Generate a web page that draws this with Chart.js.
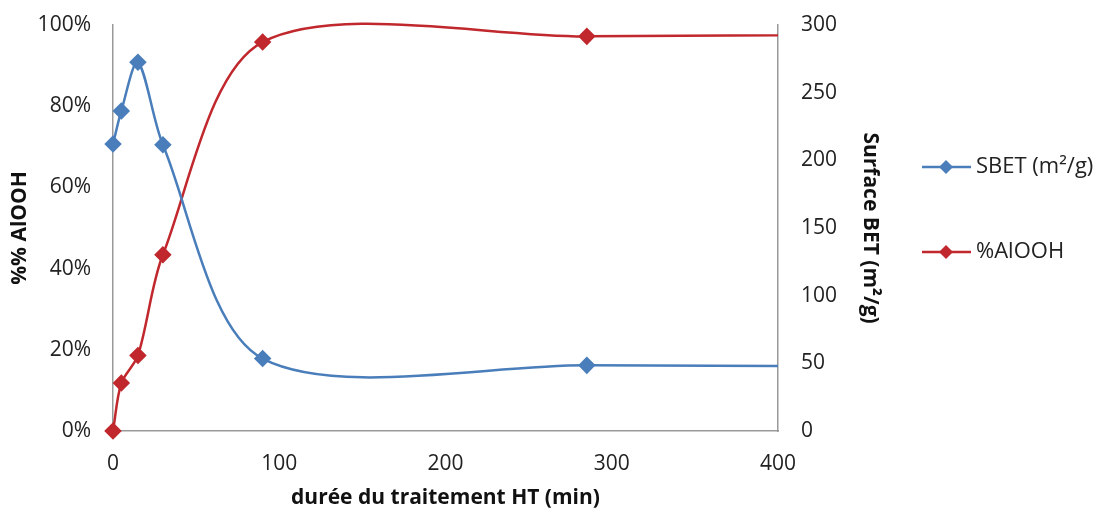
<!DOCTYPE html>
<html><head><meta charset="utf-8">
<script src="https://cdn.jsdelivr.net/npm/chart.js@4.4.0/dist/chart.umd.min.js"></script>
<style>html,body{margin:0;padding:0;background:#fff}#wrap{width:1100px;height:511px}</style>
</head><body><div id="wrap"><canvas id="c" width="1100" height="511"></canvas></div>
<script>
const durations = [0, 5, 15, 30, 90, 285, 1440];
const sbet = [212, 236.5, 272.5, 211.5, 53.5, 48.5, 44];
const alooh = [0, 11.8, 18.6, 43.4, 95.8, 97.2, 99.8];
const xTicks = [0, 100, 200, 300, 400];
const seriesNames = ['SBET (m²/g)', '%AlOOH'];
const BLUE = '#4A7EBB', RED = '#C0282D';
const FONT = "'Open Sans', 'Liberation Sans', sans-serif";

const legendPlugin = {
  id: 'sideLegend',
  afterDraw(chart) {
    const ctx = chart.ctx;
    const items = [{t: seriesNames[0], c: BLUE, y: 167}, {t: seriesNames[1], c: RED, y: 252}];
    ctx.save();
    items.forEach(it => {
      ctx.strokeStyle = it.c; ctx.lineWidth = 2.5;
      ctx.beginPath(); ctx.moveTo(922, it.y); ctx.lineTo(971, it.y); ctx.stroke();
      ctx.fillStyle = it.c;
      ctx.beginPath(); ctx.moveTo(946, it.y - 7); ctx.lineTo(953, it.y); ctx.lineTo(946, it.y + 7); ctx.lineTo(939, it.y); ctx.closePath(); ctx.fill();
      ctx.fillStyle = '#222'; ctx.font = "22px " + FONT; ctx.textBaseline = 'middle'; ctx.textAlign = 'left';
      ctx.fillText(it.t, 976, it.y);
    });
    ctx.restore();
  }
};

const clipBox = {left: 10, top: 10, right: 0, bottom: 10};

new Chart(document.getElementById('c'), {
  type: 'line',
  data: {
    datasets: [
      { label: seriesNames[0], data: durations.map((d, i) => ({x: d, y: sbet[i]})), yAxisID: 'y2', clip: clipBox,
        borderColor: BLUE, backgroundColor: BLUE, borderWidth: 2.5, pointStyle: 'rectRot', pointRadius: 7, pointHoverRadius: 7, tension: 0.3 },
      { label: seriesNames[1], data: durations.map((d, i) => ({x: d, y: alooh[i]})), yAxisID: 'y', clip: clipBox,
        borderColor: RED, backgroundColor: RED, borderWidth: 2.5, pointStyle: 'rectRot', pointRadius: 7, pointHoverRadius: 7, tension: 0.3 }
    ]
  },
  options: {
    responsive: false, animation: false, events: [],
    elements: { line: { capBezierPoints: false } },
    layout: { padding: { top: 25, right: 200, bottom: 0, left: 0 } },
    plugins: { legend: { display: false }, tooltip: { enabled: false } },
    scales: {
      x: {
        type: 'linear', min: 0, max: 400,
        afterBuildTicks: s => { s.ticks = xTicks.map(v => ({value: v})); },
        grid: { display: false, drawTicks: true, tickLength: 8, tickColor: '#999' },
        border: { display: true, color: '#999', width: 1.5 },
        ticks: { color: '#222', font: { family: FONT, size: 21 }, padding: 12, maxRotation: 0 },
        title: { display: true, text: 'durée du traitement HT (min)', color: '#111', font: { family: FONT, size: 21, weight: 'bold' }, padding: { top: 0, bottom: 0 } },
        afterFit: s => { s.height = 80; s.paddingLeft = 0; s.paddingRight = 0; }
      },
      y: {
        position: 'left', min: 0, max: 100,
        ticks: { stepSize: 20, callback: v => v + '%', color: '#222', font: { family: FONT, size: 21 }, padding: 16 },
        grid: { display: false, drawTicks: true, tickLength: 6, tickColor: '#999' },
        border: { display: true, color: '#999', width: 1.5 },
        title: { display: true, text: '%% AlOOH', color: '#111', font: { family: FONT, size: 21, weight: 'bold' }, padding: { top: 7, bottom: 0 } },
        afterFit: s => { s.width = 113; s.paddingTop = 0; s.paddingBottom = 0; }
      },
      y2: {
        position: 'right', min: 0, max: 300,
        ticks: { stepSize: 50, color: '#222', font: { family: FONT, size: 21 }, padding: 15 },
        grid: { display: false, drawOnChartArea: false, drawTicks: true, tickLength: 8, tickColor: '#999' },
        border: { display: true, color: '#999', width: 1.5 },
        title: { display: true, text: 'Surface BET (m²/g)', color: '#111', font: { family: FONT, size: 21, weight: 'bold' }, padding: { top: 17, bottom: 0 } },
        afterFit: s => { s.width = 122; s.paddingTop = 0; s.paddingBottom = 0; }
      }
    }
  },
  plugins: [legendPlugin]
});
</script></body></html>
